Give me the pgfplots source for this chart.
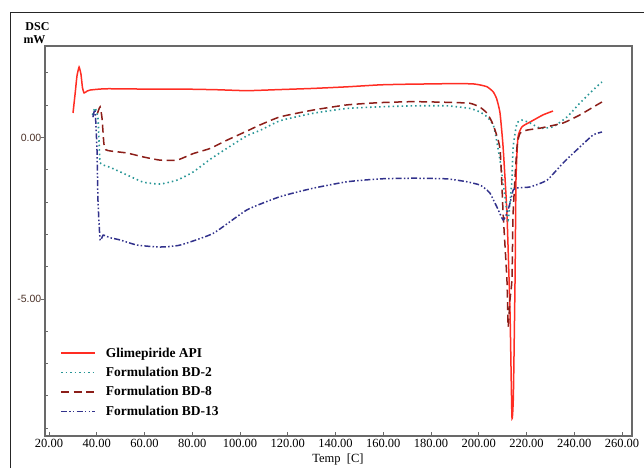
\documentclass[border=0pt]{standalone}
\usepackage{fontspec}
\setmainfont{Liberation Serif}
\newfontfamily\arialf{Liberation Sans}
\usepackage{pgfplots}
\pgfplotsset{compat=1.18}
\definecolor{cRed}{RGB}{255,45,35}
\definecolor{cTeal}{RGB}{40,150,150}
\definecolor{cDRed}{RGB}{140,30,25}
\definecolor{cBlue}{RGB}{50,50,140}
\definecolor{cAx}{RGB}{105,105,105}
\definecolor{cYl}{RGB}{75,50,40}
\begin{document}
\begin{tikzpicture}[x=1pt,y=1pt]
\useasboundingbox (0,0) rectangle (644,468);
\draw[line width=1.4pt,black!85] (10.7,0) -- (10.7,455.3) -- (644,455.3);
\node[font=\bfseries\fontsize{12}{12}\selectfont] at (37.5,441) {DSC};
\node[font=\bfseries\fontsize{12}{12}\selectfont] at (34.5,428) {mW};
\node[font=\fontsize{12.5}{14}\selectfont] at (338,9) {Temp\ \ [C]};
\begin{axis}[
  at={(45pt,32pt)}, anchor=south west,
  scale only axis, width=587pt, height=390pt,
  xmin=18.32, xmax=264.19, ymin=-9.24, ymax=2.833,
  axis line style={cAx,line width=1.3pt},
  xtick={20,40,...,260},
  ytick={-5,0},
  minor ytick={-9,-8,-7,-6,-4,-3,-2,-1,1,2},
  xtick pos=bottom, ytick pos=left,
  tick align=inside,
  major tick length=4pt, minor tick length=2.5pt,
  every major y tick/.append style={xshift=-4pt},
  tick style={cAx,line width=0.9pt},
  scaled ticks=false,
  /pgf/number format/assume math mode=true,
  xticklabel style={font=\fontsize{12.5}{14}\selectfont, /pgf/number format/fixed, /pgf/number format/fixed zerofill, /pgf/number format/precision=2},
  yticklabel style={font=\arialf\fontsize{10.5}{12}\selectfont, text=cYl, inner sep=0.5pt, xshift=-3pt, /pgf/number format/fixed, /pgf/number format/fixed zerofill, /pgf/number format/precision=2},
  legend image code/.code={\draw[#1] (0pt,0pt) -- (34pt,0pt);},
  legend cell align=left,
  legend style={draw=none, fill=none, at={(0.0256,0.232)}, anchor=north west,
    font=\bfseries\fontsize{13.5}{14}\selectfont, row sep=4.5pt, column sep=8pt, inner sep=0pt,
    nodes={inner sep=2pt}},
]
\addplot[cRed, line width=1.5pt, smooth, tension=0.3] coordinates {
(30.05,0.76) (31.0,1.4) (31.7,1.9) (32.6,2.18) (33.4,1.95) (34.0,1.55) (34.7,1.38) (36,1.44) (37.2,1.47) (41.4,1.5) (45,1.51) (60,1.5) (75,1.5) (90,1.48) (102.8,1.45) (115,1.48) (130.6,1.52) (145,1.57) (158.6,1.63) (170,1.65) (180.8,1.66) (190,1.67) (197.6,1.66) (201,1.62) (203.5,1.57) (206,1.42) (207.5,1.2) (208.9,0.76) (210.2,-0.3) (211.8,-2.34) (213.1,-5.44) (213.9,-8.65) (214.5,-8.0) (215.2,-4.4) (215.6,-1.3) (216.4,0.0) (218.1,0.33) (221.5,0.48) (226.9,0.7) (231.1,0.82)
};
\addlegendentry{Glimepiride API}
\addplot[cTeal, line width=1.6pt, dash pattern=on 1.5pt off 3pt, smooth, tension=0.3] coordinates {
(38.2,0.7) (39.3,0.92) (40.5,0.6) (41.0,-0.2) (41.4,-0.78) (43,-0.86) (45.5,-0.92) (52.7,-1.16) (59.4,-1.38) (66.5,-1.44) (73.6,-1.32) (80.3,-1.07) (87.4,-0.68) (94.6,-0.33) (102.8,0.05) (108.4,0.22) (116.8,0.52) (130.6,0.75) (144.8,0.9) (158.6,0.95) (172.5,0.98) (186.7,0.98) (196.3,0.9) (200.5,0.79) (203.5,0.64) (206,0.4) (207,0.1) (208.9,-0.7) (211.0,-1.84) (212.3,-2.55) (213.1,-2.0) (213.9,-1.3) (214.4,-0.3) (216.0,0.45) (218.1,0.54) (221.5,0.45) (225.7,0.29) (231.1,0.33) (237.0,0.64) (242.4,1.07) (247.9,1.47) (251.6,1.72)
};
\addlegendentry{Formulation BD-2}
\addplot[cDRed, line width=1.5pt, dash pattern=on 8pt off 4.5pt, smooth, tension=0.3] coordinates {
(40.3,0.75) (41.4,0.95) (42.2,0.6) (43.0,-0.2) (43.8,-0.38) (46,-0.42) (52.7,-0.48) (59.4,-0.6) (66.5,-0.7) (73.6,-0.7) (80.3,-0.5) (87.4,-0.34) (94.6,-0.08) (102.9,0.2) (108.4,0.39) (116.8,0.64) (130.6,0.85) (144.8,1.01) (158.6,1.08) (172.5,1.11) (186.7,1.09) (196.3,1.06) (200.5,0.94) (203.5,0.75) (206,0.4) (208.9,-0.35) (210.2,-2.34) (211.8,-4.4) (212.3,-5.86) (213.1,-5.0) (213.9,-4.4) (214.4,-2.34) (216.0,-0.3) (217.3,0.13) (220.2,0.23) (225.7,0.29) (235.3,0.45) (242.4,0.7) (247.9,0.94) (251.6,1.1)
};
\addlegendentry{Formulation BD-8}
\addplot[cBlue, line width=1.5pt, dash pattern=on 6pt off 2.2pt on 1.5pt off 2.2pt on 1.5pt off 2.2pt, smooth, tension=0.3] coordinates {
(38.4,0.63) (39.3,0.85) (40.1,-0.39) (40.5,-1.93) (41.4,-3.17) (42.7,-3.02) (45.5,-3.1) (49.7,-3.17) (56.9,-3.33) (66.5,-3.39) (74.9,-3.33) (88.7,-2.97) (102.9,-2.24) (116.8,-1.83) (130.6,-1.57) (144.8,-1.37) (158.6,-1.28) (172.5,-1.26) (186.7,-1.28) (195,-1.37) (200.5,-1.47) (203.5,-1.63) (204.7,-1.72) (207.6,-2.15) (210.2,-2.55) (211.8,-2.34) (213.1,-2.03) (214.4,-1.63) (216,-1.56) (221.5,-1.53) (228.6,-1.32) (235.3,-0.79) (242.4,-0.29) (247.9,0.08) (251.6,0.17)
};
\addlegendentry{Formulation BD-13}
\end{axis}
\end{tikzpicture}
\end{document}
